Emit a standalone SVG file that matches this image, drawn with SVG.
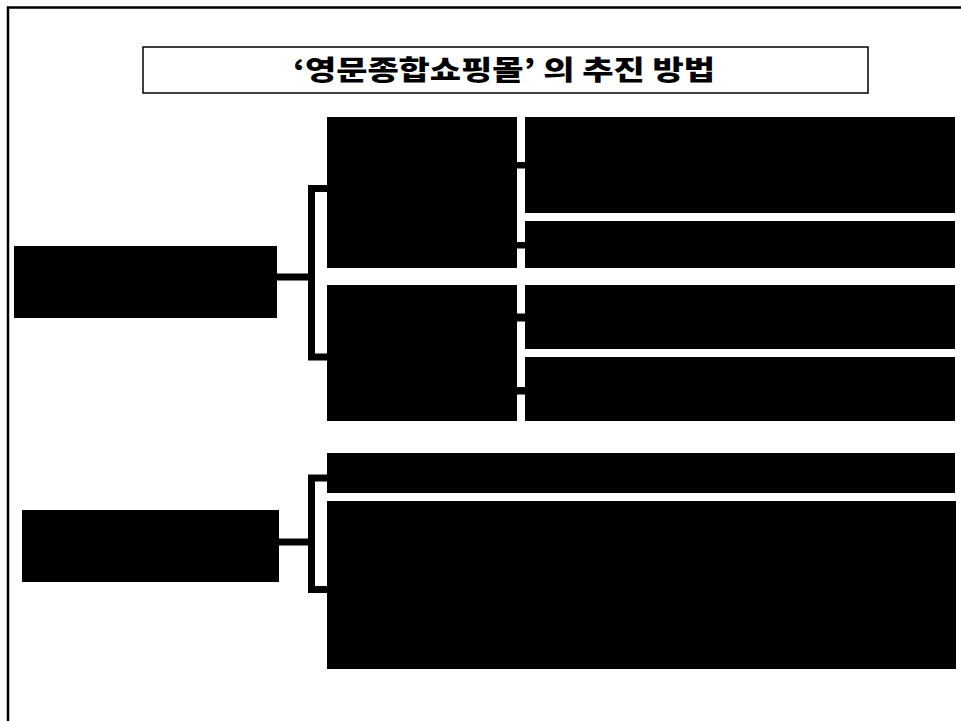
<svg xmlns="http://www.w3.org/2000/svg" width="961" height="721" viewBox="0 0 961 721">
  <style>
    .node { fill: #000; }
    .conn { fill: none; stroke: #000; stroke-width: 7; stroke-linejoin: miter; }
    .stub { fill: #000; }
    .frame { fill: none; stroke: #000; stroke-width: 2.5; }
    .titlebox { fill: #fff; stroke: #000; stroke-width: 1.5; }
    .title { font-family: "Noto Sans CJK KR", "Noto Sans", sans-serif; font-weight: 900; font-size: 27px; fill: #000; }
  </style>
  <rect width="961" height="721" fill="#fff"/>
  <path class="frame" d="M 8 721 V 7.5 H 961"/>

  <g id="title">
    <rect class="titlebox" x="143" y="47" width="725" height="46"/>
    <text class="title" x="293" y="80" textLength="422" lengthAdjust="spacingAndGlyphs">‘영문종합쇼핑몰’ 의 추진 방법</text>
  </g>

  <g id="connectors">
    <path class="conn" d="M 277 277 H 311.5 M 327 188.5 H 311.5 V 357 H 327"/>
    <path class="conn" d="M 279 542 H 311.5 M 327 478 H 311.5 V 589.5 H 327"/>
    <rect class="stub" x="516" y="162" width="10" height="6.5"/>
    <rect class="stub" x="516" y="242" width="10" height="6.5"/>
    <rect class="stub" x="516" y="313.5" width="10" height="8"/>
    <rect class="stub" x="516" y="387" width="10" height="7.5"/>
  </g>

  <g id="root1"><rect class="node" x="14" y="246" width="263" height="72"/></g>
  <g id="mid1"><rect class="node" x="327" y="117" width="190" height="151"/></g>
  <g id="mid2"><rect class="node" x="327" y="285" width="190" height="136"/></g>
  <g id="leaf1"><rect class="node" x="525" y="117" width="430" height="96"/></g>
  <g id="leaf2"><rect class="node" x="525" y="221" width="430" height="47"/></g>
  <g id="leaf3"><rect class="node" x="525" y="285" width="430" height="64"/></g>
  <g id="leaf4"><rect class="node" x="525" y="357" width="430" height="64"/></g>

  <g id="root2"><rect class="node" x="22" y="510" width="257" height="72"/></g>
  <g id="item1"><rect class="node" x="327" y="453" width="628" height="40"/></g>
  <g id="item2"><rect class="node" x="327" y="501" width="629" height="168"/></g>
</svg>
